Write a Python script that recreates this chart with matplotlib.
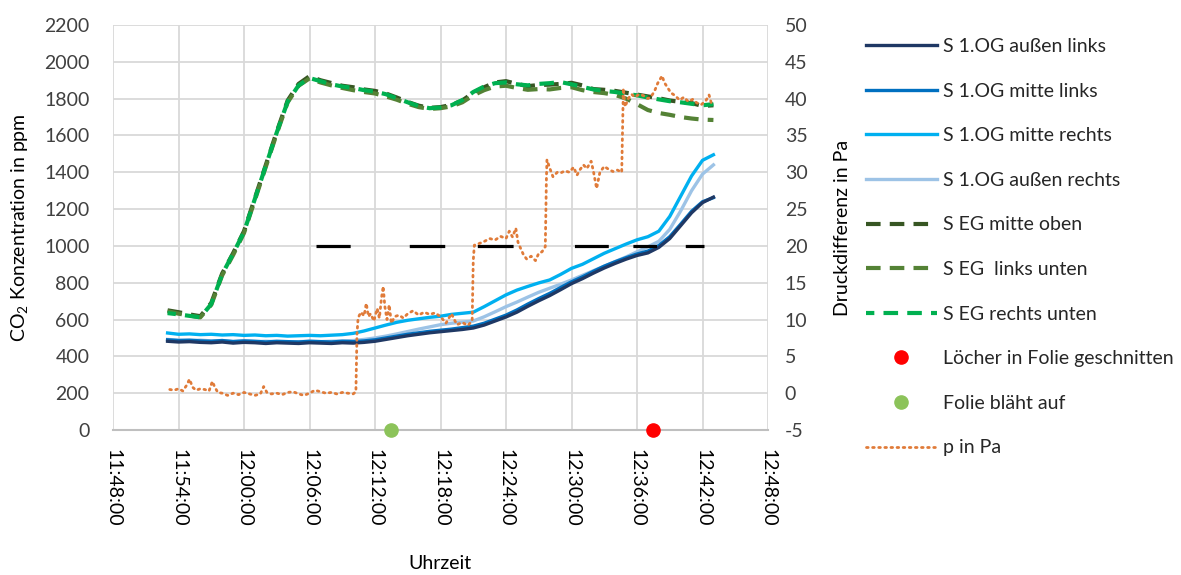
import matplotlib
matplotlib.use("Agg")
import matplotlib.pyplot as plt
from matplotlib.ticker import FuncFormatter, MultipleLocator

plt.rcParams['font.family'] = ['Lato', 'DejaVu Sans']
plt.rcParams['mathtext.fontset'] = 'custom'
plt.rcParams['mathtext.rm'] = 'Lato'
plt.rcParams['mathtext.it'] = 'Lato:italic'
plt.rcParams['axes.unicode_minus'] = False

# time in minutes after 11:48:00
START_H, START_M = 11, 48

# --- CO2 sensors, 1-minute values (ppm) ---
t_co2 = list(range(5, 56))

og_aussen_links = [482, 478, 480, 476, 474, 478, 472, 476, 474, 470, 474, 472, 470, 474, 472, 470, 474,
                   472, 476, 482, 492, 502, 512, 520, 528, 534, 540, 546, 554, 570, 592, 614, 640, 672,
                   702, 730, 762, 795, 822, 852, 880, 905, 928, 948, 962, 992, 1040, 1110, 1180, 1235, 1265]
og_mitte_links = [490, 486, 488, 484, 482, 486, 480, 484, 482, 478, 482, 480, 478, 482, 480, 478, 482,
                  480, 484, 490, 500, 510, 520, 528, 536, 542, 548, 556, 564, 580, 602, 624, 652, 684,
                  714, 742, 774, 805, 832, 862, 890, 914, 936, 956, 972, 1002, 1050, 1118, 1188, 1240, 1262]
og_mitte_rechts = [527, 520, 522, 518, 520, 516, 518, 514, 516, 512, 514, 510, 512, 514, 512, 515, 518,
                   525, 538, 554, 570, 585, 596, 604, 612, 618, 628, 634, 640, 670, 702, 734, 760, 780,
                   799, 815, 845, 878, 900, 930, 960, 985, 1010, 1033, 1050, 1080, 1160, 1270, 1380, 1465, 1495]
og_aussen_rechts = [492, 488, 486, 488, 484, 486, 482, 484, 480, 482, 480, 478, 480, 482, 480, 482, 484,
                    486, 492, 500, 510, 522, 535, 548, 560, 572, 580, 586, 592, 615, 642, 670, 695, 722,
                    748, 770, 792, 815, 840, 865, 890, 915, 940, 968, 995, 1025, 1090, 1190, 1300, 1390, 1440]

# --- EG sensors, 1-minute values (ppm) ---
eg_mitte_oben = [650, 640, 628, 618, 690, 850, 960, 1080, 1260, 1440, 1620, 1790, 1880, 1922, 1900, 1885,
                 1870, 1862, 1850, 1842, 1828, 1806, 1782, 1762, 1750, 1754, 1766, 1790, 1832, 1862, 1888,
                 1895, 1880, 1868, 1874, 1876, 1880, 1886, 1872, 1852, 1848, 1842, 1832, 1822, 1812, 1802,
                 1790, 1782, 1776, 1760, 1764]
eg_links_unten = [645, 632, 622, 612, 680, 840, 950, 1070, 1250, 1430, 1610, 1780, 1870, 1910, 1888, 1872,
                  1858, 1846, 1836, 1828, 1812, 1794, 1772, 1754, 1744, 1748, 1758, 1780, 1818, 1846, 1866,
                  1870, 1858, 1848, 1852, 1850, 1858, 1862, 1846, 1836, 1830, 1820, 1800, 1770, 1738, 1722,
                  1712, 1700, 1692, 1686, 1684]
eg_rechts_unten = [635, 628, 620, 612, 684, 846, 958, 1076, 1256, 1436, 1616, 1784, 1872, 1912, 1895, 1878,
                   1866, 1858, 1846, 1838, 1824, 1802, 1780, 1760, 1748, 1752, 1764, 1792, 1836, 1866, 1884,
                   1888, 1878, 1872, 1880, 1884, 1890, 1878, 1864, 1850, 1842, 1836, 1826, 1818, 1806, 1796,
                   1786, 1780, 1772, 1764, 1770]

# --- pressure difference (Pa) ---
t_p = [5.2, 5.6, 6.0, 6.4, 6.8, 7.0, 7.3, 7.6, 8.0, 8.4, 8.8, 9.1, 9.3, 9.6, 10.0, 10.5, 11.0, 11.5,
       12.0, 12.5, 13.0, 13.5, 13.8, 14.1, 14.5, 15.0, 15.5, 16.0, 16.5, 17.0, 17.5, 18.0, 18.5, 19.0,
       19.5, 20.0, 20.5, 21.0, 21.5, 22.0, 22.25,
       22.35, 22.45, 22.7, 23.0, 23.2, 23.4, 23.6, 23.9, 24.2, 24.4, 24.6, 24.75, 24.9, 25.1, 25.3, 25.5,
       25.8, 26.2, 26.6, 27.0, 27.5, 28.0, 28.5, 29.0, 29.5, 30.0, 30.5, 31.0, 31.5, 32.0, 32.5, 32.9,
       33.0, 33.1, 33.5, 34.0, 34.5, 35.0, 35.5, 36.0, 36.3, 36.6, 36.9, 37.1, 37.3, 37.6, 37.9, 38.3,
       38.7, 39.0, 39.3, 39.6,
       39.7, 39.75, 40.0, 40.3, 40.7, 41.0, 41.4, 41.8, 42.2, 42.5, 42.8, 43.1, 43.4, 43.8, 44.0, 44.3,
       44.6, 45.0, 45.4, 45.8, 46.2, 46.6,
       46.7, 46.75, 46.9, 47.2, 47.5, 47.8, 48.2, 48.6, 49.0, 49.3, 49.6, 49.9, 50.1, 50.3, 50.5, 50.8,
       51.1, 51.5, 51.9, 52.3, 52.7, 53.1, 53.5, 53.9, 54.3, 54.6, 54.9]
p_pa = [0.5, 0.4, 0.6, 0.3, 1.2, 1.9, 0.8, 0.4, 0.6, 0.5, 0.3, 1.6, 0.9, 0.1, 0.0, -0.3, 0.0, -0.2,
        0.1, -0.1, -0.3, -0.1, 0.9, 0.1, -0.1, 0.0, -0.2, 0.1, 0.2, -0.1, -0.3, 0.0, 0.4, 0.2,
        0.0, 0.1, -0.1, 0.1, 0.0, -0.1, 0.2,
        8.0, 10.2, 11.0, 10.5, 12.2, 10.4, 10.8, 9.8, 11.5, 10.2, 13.0, 14.5, 11.8, 10.0, 12.0, 9.5,
        10.4, 10.6, 10.2, 10.8, 11.2, 10.6, 11.0, 10.7, 10.9, 10.4, 9.5, 10.8, 9.3, 9.6, 9.2, 9.8,
        18.0, 20.1, 20.3, 20.6, 21.0, 20.8, 21.3, 21.0, 22.0, 21.2, 22.4, 20.5, 19.8, 18.8, 18.2, 18.6,
        18.0, 19.0, 19.2, 19.9,
        29.0, 31.7, 30.6, 29.4, 30.0, 29.9, 30.2, 30.0, 30.7, 29.6, 30.4, 31.0, 30.5, 31.5, 30.2, 27.8,
        30.0, 30.8, 30.4, 30.1, 30.3, 30.0,
        38.0, 41.4, 38.9, 40.0, 40.6, 40.2, 40.6, 40.4, 40.0, 40.3, 41.0, 42.1, 42.6, 43.1, 42.2, 41.5,
        40.8, 40.4, 39.8, 40.2, 39.6, 39.9, 39.4, 39.2, 39.7, 40.5, 38.9]

# CO2 limit 1000 ppm, drawn between these times
t_limit = [18.6, 54.1]
limit_ppm = [1000, 1000]

# events
t_folie_auf = 25.5
t_loecher = 49.5

x_tick_min = list(range(0, 61, 6))


def fmt_time(m, pos=None):
    total = int(round((START_H * 60 + START_M + m) * 60))
    return "%d:%02d:%02d" % (total // 3600, (total // 60) % 60, total % 60)


fig = plt.figure(figsize=(11.81, 5.75), dpi=100)
ax = fig.add_axes([113 / 1181, 145 / 575, 655 / 1181, 405 / 575])
ax2 = ax.twinx()

grid_c = '#D9D9D9'
ax.set_axisbelow(True)
ax.grid(True, color=grid_c, linewidth=1.3)

ax.plot(t_co2, og_aussen_links, color='#1F3864', lw=2.4, label='S 1.OG außen links', zorder=5)
ax.plot(t_co2, og_mitte_links, color='#0070C0', lw=2.4, label='S 1.OG mitte links', zorder=4)
ax.plot(t_co2, og_mitte_rechts, color='#00B0F0', lw=2.4, label='S 1.OG mitte rechts', zorder=3)
ax.plot(t_co2, og_aussen_rechts, color='#9DC3E6', lw=2.4, label='S 1.OG außen rechts', zorder=3)

dash = (0, (3.5, 2.2))
ax.plot(t_co2, eg_mitte_oben, color='#375623', lw=3, ls=dash, label='S EG mitte oben', zorder=4)
ax.plot(t_co2, eg_links_unten, color='#548235', lw=3, ls=dash, label='S EG  links unten', zorder=4)
ax.plot(t_co2, eg_rechts_unten, color='#00B050', lw=3, ls=(1.5, (3.5, 2.2)), label='S EG rechts unten', zorder=4)

ax.plot(t_limit, limit_ppm, color='black', lw=2.3,
        ls=(0, (10.7, 18.5, 11.1, 10.2, 11.2, 19.2, 10.6, 7.7, 7.4, 9.0, 7.6, 40)), zorder=6)

ax.plot([t_loecher], [0], 'o', color='#FF0000', ms=9.5, clip_on=False, zorder=10,
        label='Löcher in Folie geschnitten')
ax.plot([t_folie_auf], [0], 'o', color='#8CC35A', ms=9.5, clip_on=False, zorder=10,
        label='Folie bläht auf')

ax2.plot(t_p, p_pa, color='#E07B39', lw=2.0, ls=(0, (0.6, 1.6)), dash_capstyle='round',
         label='p in Pa', zorder=2)

ax.set_xlim(0, 60)
ax.set_ylim(0, 2200)
ax2.set_ylim(-5, 50)
ax.set_xticks(x_tick_min)
ax.xaxis.set_major_formatter(FuncFormatter(fmt_time))
ax.yaxis.set_major_locator(MultipleLocator(200))
ax2.yaxis.set_major_locator(MultipleLocator(5))

for a in (ax, ax2):
    for s in a.spines.values():
        s.set_visible(False)
ax.spines['bottom'].set_visible(True)
ax.spines['bottom'].set_color('#BFBFBF')
ax.spines['bottom'].set_linewidth(1.5)

ax.tick_params(axis='x', length=0, pad=14, labelsize=14, labelrotation=270, colors='#000000')
ax.tick_params(axis='y', length=0, pad=17, labelsize=14, colors='#404040')
ax2.tick_params(axis='y', length=0, pad=12, labelsize=14, colors='#404040')

ax.set_ylabel(r'CO$_2$ Konzentration in ppm', fontsize=14, va='center')
ax.yaxis.set_label_coords(-0.142, 0.5)
ax2.set_ylabel('Druckdifferenz in Pa', fontsize=14, va='center')
ax2.yaxis.set_label_coords(1.113, 0.5)
ax.set_xlabel('Uhrzeit', fontsize=14, va='center')
ax.xaxis.set_label_coords(0.499, -0.33)

h1, l1 = ax.get_legend_handles_labels()
h2, l2 = ax2.get_legend_handles_labels()
leg = fig.legend(h1 + h2, l1 + l2, loc='upper left', bbox_to_anchor=(866 / 1181, 1 - 38 / 575),
                 frameon=False, fontsize=14, borderpad=0, borderaxespad=0, handlelength=3.65,
                 handletextpad=0.33, labelspacing=1.42)
for txt in leg.get_texts():
    txt.set_color('#262626')

fig.savefig('out.png', dpi=100)
